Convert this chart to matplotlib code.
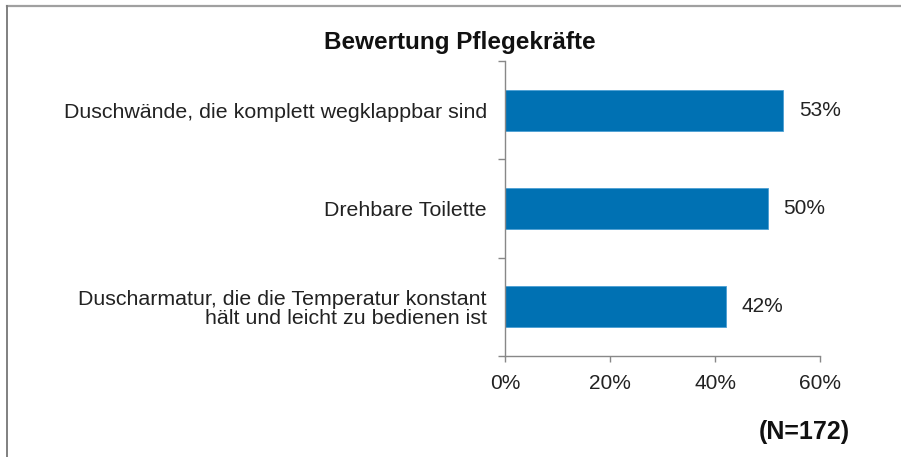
import matplotlib
matplotlib.use("Agg")
import matplotlib.pyplot as plt
from matplotlib.lines import Line2D

categories = [
    "Duschwände, die komplett wegklappbar sind",
    "Drehbare Toilette",
    "Duscharmatur, die die Temperatur konstant\nhält und leicht zu bedienen ist",
]
values = [53, 50, 42]
xticks = [0, 20, 40, 60]
title = "Bewertung Pflegekräfte"
note = "(N=172)"

plt.rcParams['font.family'] = ['Liberation Sans', 'DejaVu Sans']

fig = plt.figure(figsize=(9.01, 4.57), dpi=100)
ax = fig.add_axes([0.5605, 0.221, 0.3496, 0.6455])

n = len(categories)
pos = list(range(n))
ax.barh(pos, values, height=0.42, color='#0071b3', edgecolor='#4a9fd4', linewidth=0.6)
ax.set_ylim(n - 0.5, -0.5)
ax.set_xlim(0, 60)

for p, v in zip(pos, values):
    ax.text(v + 3, p, f"{v}%", va='center', ha='left', fontsize=15, color='#222222')

ax.set_xticks(xticks)
ax.set_xticklabels([f"{t}%" for t in xticks], fontsize=15, color='#222222')
ax.set_yticks([p - 0.5 for p in pos] + [n - 0.5])
ax.set_yticklabels([])
ax.set_yticks(pos, minor=True)
ax.set_yticklabels(categories, minor=True, fontsize=15.4, color='#222222', ha='right',
                   multialignment='right', linespacing=0.98)
ax.tick_params(axis='y', which='minor', length=0, pad=13)
ax.tick_params(axis='y', which='major', length=5, color='#888888', width=1)
ax.tick_params(axis='x', length=4, color='#888888', width=1, pad=9)

for s in ['top', 'right']:
    ax.spines[s].set_visible(False)
for s in ['left', 'bottom']:
    ax.spines[s].set_color('#888888')
    ax.spines[s].set_linewidth(1)

fig.text(460 / 901, 1 - 42 / 457, title, ha='center', va='center', fontsize=17.5, fontweight='bold', color='#111111')
fig.text(850 / 901, 1 - 432 / 457, note, ha='right', va='center', fontsize=18, fontweight='bold', color='#111111')

# frame lines (top and left)
fig.add_artist(Line2D([6.5 / 901, 1], [1 - 5.5 / 457, 1 - 5.5 / 457], transform=fig.transFigure, color='#a0a0a0', lw=1.6))
fig.add_artist(Line2D([6.5 / 901, 6.5 / 901], [0, 1 - 5.5 / 457], transform=fig.transFigure, color='#808080', lw=1.4))

fig.savefig("out.png", dpi=100)
